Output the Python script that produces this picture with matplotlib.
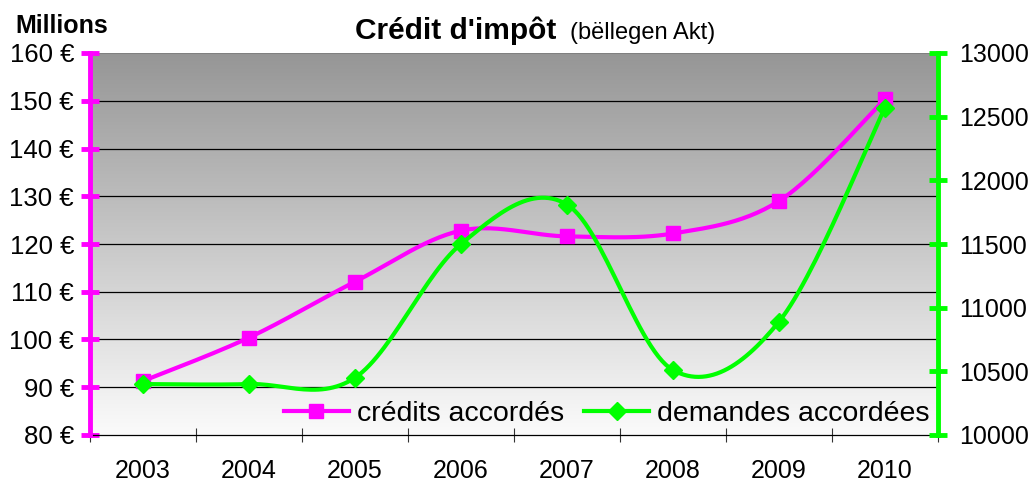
import numpy as np
from matplotlib import pyplot as plt

plt.rcParams['font.family'] = ['Liberation Sans', 'DejaVu Sans']

years = ['2003', '2004', '2005', '2006', '2007', '2008', '2009', '2010']
credits = [91.3, 100.4, 112.1, 122.8, 121.6, 122.2, 129.0, 150.3]  # millions EUR
demandes = [10400, 10400, 10450, 11500, 11810, 10510, 10890, 12570]

MAGENTA = '#ff00ff'
GREEN = '#00ff00'


def smooth(y, n=30):
    # excel-like smoothed line (catmull-rom through the points)
    x = np.arange(len(y), dtype=float)
    y = np.asarray(y, dtype=float)
    px = np.concatenate([[x[0]], x, [x[-1]]])
    py = np.concatenate([[y[0]], y, [y[-1]]])
    xs, ys = [], []
    t = np.linspace(0, 1, n)
    for i in range(len(y) - 1):
        p0 = np.array([px[i + 1], py[i + 1]])
        p3 = np.array([px[i + 2], py[i + 2]])
        p1 = p0 + (p3 - np.array([px[i], py[i]])) / 6
        p2 = p3 - (np.array([px[i + 3], py[i + 3]]) - p0) / 6
        b = ((1 - t) ** 3)[:, None] * p0 + (3 * (1 - t) ** 2 * t)[:, None] * p1 \
            + (3 * (1 - t) * t ** 2)[:, None] * p2 + (t ** 3)[:, None] * p3
        xs.extend(b[:, 0])
        ys.extend(b[:, 1])
    return xs, ys


fig = plt.figure(figsize=(10.33, 4.82), dpi=100)
ax = fig.add_axes([90 / 1033, 47 / 482, 848 / 1033, 382 / 482])
ax2 = ax.twinx()

# gray gradient background
grad = np.linspace(0, 1, 256)[:, None]
ax.imshow(grad, cmap=plt.matplotlib.colors.LinearSegmentedColormap.from_list(
    'bg', ['#969696', '#fbfbfb']), aspect='auto', extent=[0, 1, 0, 1],
    transform=ax.transAxes, zorder=0)

ax.set_xlim(-0.5, 7.5)
ax.set_ylim(80, 160)
ax2.set_ylim(10000, 13000)

for v in range(90, 160, 10):
    ax.axhline(v, color='black', lw=0.9, zorder=1)
ax.axhline(160, color='#808080', lw=1.5, zorder=1)

xs, ys = smooth(credits)
ax.plot(xs, ys, color=MAGENTA, lw=3, zorder=3)
ax.plot(range(len(years)), credits, ls='none', marker='s', ms=10,
        color=MAGENTA, zorder=4)

xs, ys = smooth(demandes)
ax2.plot(xs, ys, color=GREEN, lw=3, zorder=3)
ax2.plot(range(len(years)), demandes, ls='none', marker='D', ms=9,
         color=GREEN, zorder=4)

# axes styling
for a in (ax, ax2):
    a.spines['top'].set_visible(False)
ax.spines['right'].set_visible(False)
ax2.spines['left'].set_visible(False)
ax2.spines['bottom'].set_visible(False)
ax.spines['left'].set_color(MAGENTA)
ax.spines['left'].set_linewidth(3.5)
ax2.spines['right'].set_color(GREEN)
ax2.spines['right'].set_linewidth(3.5)
ax.spines['bottom'].set_linewidth(0.9)
ax.spines['bottom'].set_zorder(2)

ax.set_yticks(range(80, 161, 10))
ax.set_yticklabels(['%d €' % v for v in range(80, 161, 10)])
ax.tick_params(axis='y', direction='inout', length=13, width=3.5,
               color=MAGENTA, labelsize=18.5, pad=5)
ax2.set_yticks(range(10000, 13001, 500))
ax2.tick_params(axis='y', direction='inout', length=13, width=3.5,
                color=GREEN, labelsize=18, pad=9)

ax.set_xticks(range(len(years)))
ax.set_xticklabels(years)
ax.set_xticks(np.arange(-0.5, 8, 1), minor=True)
ax.tick_params(axis='x', which='major', length=0, labelsize=18, pad=17)
ax.tick_params(axis='x', which='minor', direction='inout', length=10,
               width=0.8, color='#333333')

h1 = plt.Line2D([], [], color=MAGENTA, lw=3, marker='s', ms=10)
h2 = plt.Line2D([], [], color=GREEN, lw=3, marker='D', ms=9)
ax2.legend([h1, h2], ['crédits accordés', 'demandes accordées'], ncol=2,
           loc='center right', bbox_to_anchor=(0.99, 0.055), frameon=False,
           fontsize=20.5, handlelength=2.3, handletextpad=0.27,
           columnspacing=0.7, borderpad=0, borderaxespad=0)

fig.text(15 / 1033, 1 - 33 / 482, 'Millions', fontsize=18, fontweight='bold',
         va='baseline')
t1 = fig.text(355 / 1033, 1 - 39 / 482, "Crédit d'impôt", fontsize=21.5,
              fontweight='bold', va='baseline')
fig.text(570 / 1033, 1 - 39 / 482, '(bëllegen Akt)', fontsize=17,
         va='baseline')

plt.savefig('out.png', dpi=100)
